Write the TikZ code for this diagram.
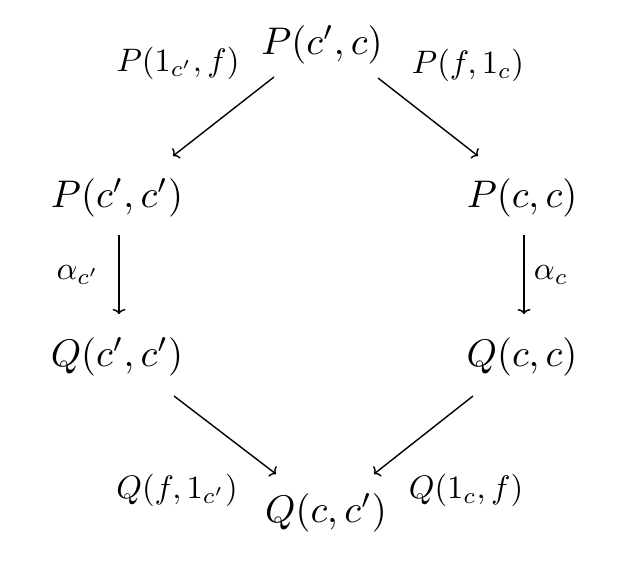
\documentclass[tikz,border=0pt]{standalone}
\usepackage{amsmath}
\usetikzlibrary{arrows.meta}
\begin{document}
\begin{tikzpicture}[x=1pt,y=-1pt,
  obj/.style={inner sep=0pt,scale=3.85,transform shape},
  lab/.style={inner sep=0pt,scale=3.25,transform shape},
  arr/.style={-{To[length=5pt,width=13pt]},line width=1.4pt}]
\useasboundingbox (0,0) rectangle (640,563);
\node[obj] (top) at (322,45) {$P(c',c)$};
\node[obj] (pl) at (117,198) {$P(c',c')$};
\node[obj] (pr) at (522,198) {$P(c,c)$};
\node[obj] (ql) at (117,357) {$Q(c',c')$};
\node[obj] (qr) at (522,357) {$Q(c,c)$};
\node[obj] (bot) at (326,513) {$Q(c,c')$};
\coordinate (a1) at (274,77); \coordinate (a2) at (173,156);
\coordinate (b1) at (378,78); \coordinate (b2) at (478,156);
\coordinate (c1) at (119,235); \coordinate (c2) at (119,314);
\coordinate (d1) at (524,235); \coordinate (d2) at (524,314);
\coordinate (e1) at (174,396); \coordinate (e2) at (276,474);
\coordinate (f1) at (473,396); \coordinate (f2) at (374,474);
\draw[arr] (a1) -- (a2);
\draw[arr] (b1) -- (b2);
\draw[arr] (c1) -- (c2);
\draw[arr] (d1) -- (d2);
\draw[arr] (e1) -- (e2);
\draw[arr] (f1) -- (f2);
\node[lab] (l1) at (178,63) {$P(1_{c'},f)$};
\node[lab] (l2) at (468,65) {$P(f,1_c)$};
\node[lab] (l3) at (78,275) {$\alpha_{c'}$};
\node[lab] (l4) at (551,275) {$\alpha_c$};
\node[lab] (l5) at (177,490) {$Q(f,1_{c'})$};
\node[lab] (l6) at (466,490) {$Q(1_c,f)$};
\end{tikzpicture}
\end{document}
